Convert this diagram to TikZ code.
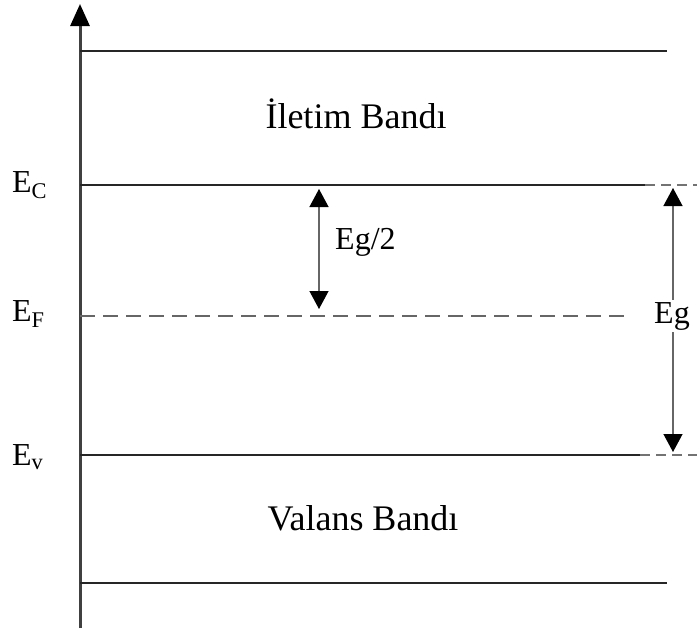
\documentclass[tikz,border=0pt]{standalone}
\usepackage{fontspec}
\setmainfont{Liberation Serif}
\usetikzlibrary{arrows.meta}
\begin{document}
\begin{tikzpicture}[x=1pt,y=-1pt,
  level/.style={line width=1.8pt,draw=black!85},
  fermi/.style={line width=2pt,draw=black!60,dash pattern=on 15pt off 8pt},
  ext/.style={line width=1.6pt,draw=black!55,dash pattern=on 10pt off 6pt},
  tip/.style={Triangle[length=18pt,width=19pt,color=black]},
  gap/.style={line width=1.3pt,draw=black!60,{Triangle[length=18pt,width=19pt,color=black]}-{Triangle[length=18pt,width=19pt,color=black]}},
  lbl/.style={font=\fontsize{32}{32}\selectfont,inner sep=0pt},
  band/.style={font=\fontsize{36}{36}\selectfont,inner sep=0pt}]
\useasboundingbox (0,0) rectangle (697,632);

% energy axis
\coordinate (axB) at (80,628);
\coordinate (axT) at (80,4);
\draw[line width=3pt,draw=black!75,-{Triangle[length=22pt,width=19pt,color=black]}] (axB) -- (axT);

% band edges
\coordinate (topL) at (80,51);   \coordinate (topR) at (667,51);
\coordinate (ecL) at (80,185);   \coordinate (ecR) at (645,185);  \coordinate (ecX) at (697,185);
\coordinate (efL) at (80,316);   \coordinate (efR) at (627,316);
\coordinate (evL) at (80,455);   \coordinate (evR) at (640,455);  \coordinate (evX) at (697,455);
\coordinate (botL) at (80,583);  \coordinate (botR) at (667,583);

\draw[level] (topL) -- (topR);
\draw[level] (ecL) -- (ecR);
\draw[ext] (ecR) -- (ecX);
\draw[fermi] (efL) -- (efR);
\draw[level] (evL) -- (evR);
\draw[ext] (evR) -- (evX);
\draw[level] (botL) -- (botR);

% level names
\node[lbl,anchor=west] (ec) at (12,185) {E\textsubscript{C}};
\node[lbl,anchor=west] (ef) at (12,314) {E\textsubscript{F}};
\node[lbl,anchor=west] (ev) at (12,457) {E\textsubscript{v}};

% band names
\node[band] (cb) at (356,114) {İletim Bandı};
\node[band] (vb) at (363,518) {Valans Bandı};

% half gap
\coordinate (hT) at (319,189);
\coordinate (hB) at (319,309);
\draw[gap] (hT) -- (hB);
\node[lbl,anchor=west] (hl) at (335,242) {Eg/2};

% full gap
\coordinate (gT) at (673,188);
\coordinate (gB) at (673,452);
\draw[gap] (gT) -- (gB);
\node[lbl,fill=white,inner sep=2pt] (gl) at (672,316) {Eg};
\end{tikzpicture}
\end{document}
